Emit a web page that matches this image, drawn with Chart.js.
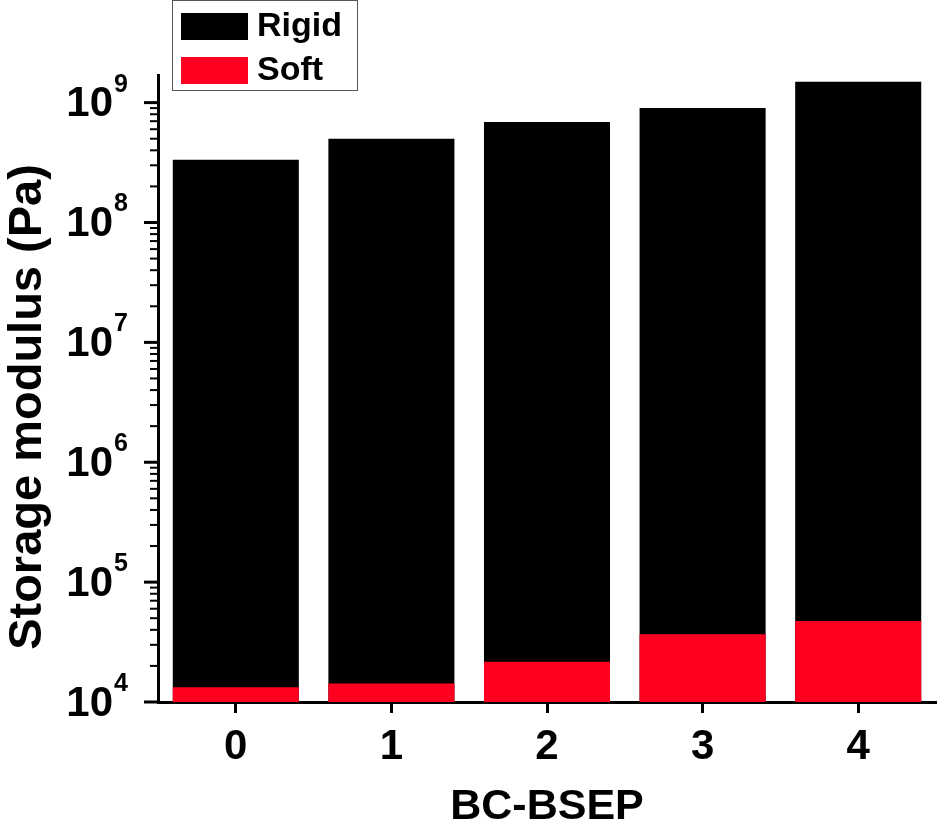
<!DOCTYPE html>
<html>
<head>
<meta charset="utf-8">
<script src="https://cdn.jsdelivr.net/npm/chart.js@4.4.0/dist/chart.umd.min.js"></script>
<style>
  html, body { margin: 0; padding: 0; background: #fff; }
  #wrap { width: 940px; height: 829px; }
</style>
</head>
<body>
<div id="wrap"><canvas id="modulus"></canvas></div>
<script>
// values (Pa)
const categories = ['0', '1', '2', '3', '4'];
const rigid = [3.34e8, 5.0e8, 6.9e8, 9.0e8, 1.49e9];
const soft = [1.33e4, 1.43e4, 2.17e4, 3.67e4, 4.74e4];
const seriesNames = ['Rigid', 'Soft'];
const seriesColors = ['#000000', '#ff0020'];
const yMin = 1e4;
const yMax = 1.7e9;
const decades = [4, 5, 6, 7, 8, 9];

const FONT = '"Liberation Sans", Arial, sans-serif';

// draws log ticks with superscript labels, the y title and the boxed legend
const decor = {
  id: 'decor',
  afterDraw(chart) {
    const ctx = chart.ctx;
    const y = chart.scales.y;
    const area = chart.chartArea;
    ctx.save();
    ctx.strokeStyle = '#000';
    ctx.fillStyle = '#000';

    decades.forEach((exp) => {
      for (let k = 1; k <= 9; k++) {
        const v = k * Math.pow(10, exp);
        if (v > yMax) break;
        const py = y.getPixelForValue(v);
        const major = k === 1;
        ctx.lineWidth = major ? 3 : 2;
        ctx.beginPath();
        ctx.moveTo(area.left - (major ? 14 : 8), py);
        ctx.lineTo(area.left, py);
        ctx.stroke();
        if (major) {
          ctx.textBaseline = 'middle';
          ctx.textAlign = 'right';
          ctx.font = 'bold 42px ' + FONT;
          ctx.fillText('10', 113, py + 2);
          ctx.textAlign = 'left';
          ctx.font = 'bold 25px ' + FONT;
          ctx.fillText(String(exp), 114, py - 18);
        }
      }
    });

    // y axis title
    ctx.save();
    ctx.translate(28, 407);
    ctx.rotate(-Math.PI / 2);
    ctx.textAlign = 'center';
    ctx.textBaseline = 'middle';
    ctx.font = 'bold 47px ' + FONT;
    ctx.fillText('Storage modulus (Pa)', 0, 0);
    ctx.restore();

    // legend
    ctx.fillStyle = '#fff';
    ctx.fillRect(172, 0, 186, 91);
    ctx.lineWidth = 1;
    ctx.strokeStyle = '#555';
    ctx.strokeRect(172.5, 0.5, 185, 90);
    chart.data.datasets.forEach((ds, i) => {
      const top = 13 + i * 44;
      ctx.fillStyle = ds.backgroundColor;
      ctx.fillRect(181, top, 67, 27);
      ctx.fillStyle = '#000';
      ctx.font = 'bold 34px ' + FONT;
      ctx.textAlign = 'left';
      ctx.textBaseline = 'middle';
      ctx.fillText(ds.label, 257, top + 14);
    });
    ctx.restore();
  }
};

const modulus_chart = new Chart(document.getElementById('modulus'), {
  type: 'bar',
  data: {
    labels: categories,
    datasets: [
      { label: seriesNames[0], data: rigid, backgroundColor: seriesColors[0], order: 2 },
      { label: seriesNames[1], data: soft, backgroundColor: seriesColors[1], order: 1 }
    ]
  },
  options: {
    responsive: true,
    maintainAspectRatio: false,
    animation: false,
    devicePixelRatio: 1,
    layout: { padding: { top: 75, right: 4, left: 0, bottom: 0 } },
    datasets: {
      bar: { grouped: false, categoryPercentage: 1, barPercentage: 0.81, borderWidth: 0 }
    },
    plugins: {
      legend: { display: false },
      tooltip: { enabled: false }
    },
    scales: {
      x: {
        grid: { display: true, drawOnChartArea: false, offset: false, tickLength: 11, tickWidth: 3, tickColor: '#000' },
        border: { display: true, width: 3, color: '#000' },
        ticks: { color: '#000', padding: 9, font: { family: FONT, size: 42, weight: 'bold' } },
        title: {
          display: true, text: 'BC-BSEP', color: '#000', padding: { top: 0, bottom: 0 },
          font: { family: FONT, size: 43, weight: 'bold', lineHeight: 1 }
        },
        afterFit(scale) { scale.height = 127; }
      },
      y: {
        type: 'logarithmic',
        min: yMin,
        max: yMax,
        grid: { display: false },
        border: { display: true, width: 3, color: '#000' },
        ticks: { display: false },
        afterFit(scale) { scale.width = 158; }
      }
    }
  },
  plugins: [decor]
});
</script>
</body>
</html>
